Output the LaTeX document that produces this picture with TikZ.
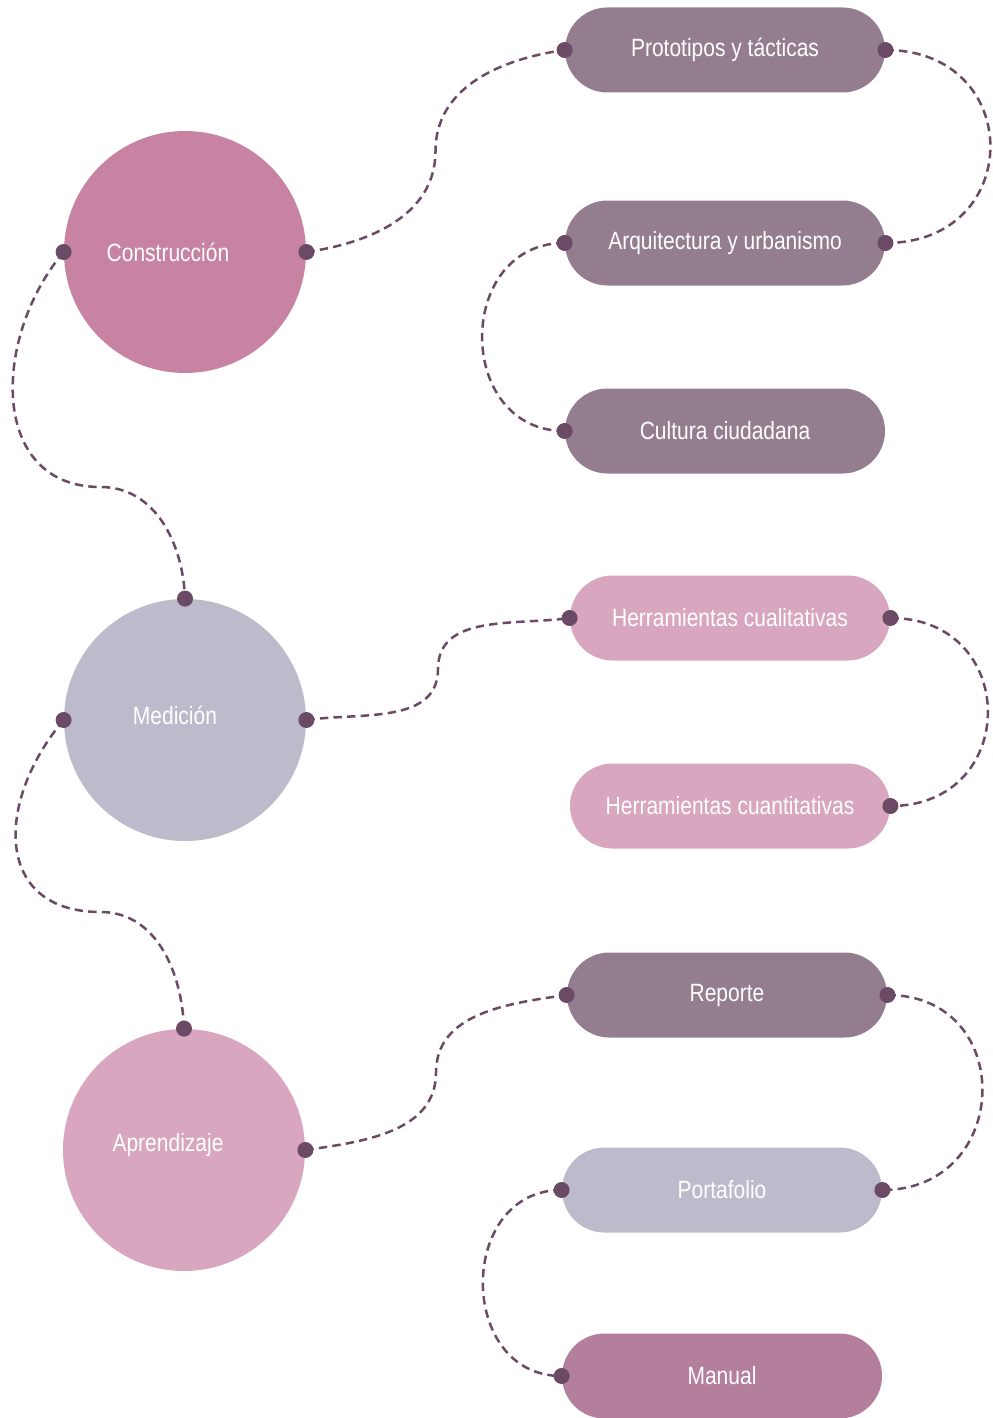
\documentclass[tikz,border=0pt]{standalone}
\usepackage{fontspec}
\setmainfont{Liberation Sans}[FakeStretch=0.84]
\usetikzlibrary{calc}
\definecolor{linkcol}{HTML}{6B4A65}
\definecolor{roseA}{HTML}{C882A2}
\definecolor{lilac}{HTML}{BDBACB}
\definecolor{pinkB}{HTML}{D8A6BF}
\definecolor{mauve}{HTML}{937D8E}
\definecolor{plum}{HTML}{B47F9C}

\begin{document}
\begin{tikzpicture}[x=0.5pt,y=0.5pt]
        \tikzstyle{every node}+=[inner sep=0pt,text=white,font=\fontsize{12.5}{15}\selectfont]
        \tikzstyle{hub}=[circle,minimum size=121pt]
        \tikzstyle{pill}=[rectangle,rounded corners=21.25pt,minimum width=160pt,minimum height=42.5pt]
        \tikzstyle{link}=[draw=linkcol,line width=1.25pt,dash pattern=on 4.2pt off 2.6pt]
        \useasboundingbox (0,0) rectangle (992,-1418);
        % big circles
        \node [hub,fill=roseA] (cons) at (185,-252) {};
        \node (consT) at (168,-252) {Construcción};
        \node [hub,fill=lilac] (med) at (185,-720) {};
        \node (medT) at (175,-715) {Medición};
        \node [hub,fill=pinkB] (apr) at (184,-1150) {};
        \node (aprT) at (168,-1145) {Aprendizaje};
        % pills
        \node [pill,fill=mauve] (proto) at (725,-50) {Prototipos y tácticas};
        \node [pill,fill=mauve] (arq) at (725,-243) {Arquitectura y urbanismo};
        \node [pill,fill=mauve] (cult) at (725,-431) {Cultura ciudadana};
        \node [pill,fill=pinkB] (hcual) at (730,-618) {Herramientas cualitativas};
        \node [pill,fill=pinkB] (hcuant) at (730,-806) {Herramientas cuantitativas};
        \node [pill,fill=mauve] (rep) at (727,-995) {Reporte};
        \node [pill,fill=lilac] (port) at (722,-1190) {Portafolio};
        \node [pill,fill=plum] (man) at (722,-1376) {Manual};
        % connectors
        \draw [link] (cons.east) to[out=8,in=-90] ($(cons.east)!.5!(proto.west)$) to[out=90,in=188] (proto.west);
        \draw [link] (proto.east) .. controls +(140,0) and +(140,0) .. (arq.east);
        \draw [link] (arq.west) .. controls +(-110,0) and +(-110,0) .. (cult.west);
        \draw [link] (cons.west) to[out=-130,in=180,looseness=1.2] ($(cons.west)+(37,-235)$) to[out=0,in=92] (med.north);
        \draw [link] (med.east) to[out=8,in=-90] ($(med.east)!.5!(hcual.west)$) to[out=90,in=188] (hcual.west);
        \draw [link] (hcual.east) .. controls +(130,0) and +(130,0) .. (hcuant.east);
        \draw [link] (med.west) to[out=-130,in=180,looseness=1.4] ($(med.west)+(37,-192)$) to[out=0,in=92] (apr.north);
        \draw [link] (apr.east) to[out=8,in=-90] ($(apr.east)!.5!(rep.west)$) to[out=90,in=188] (rep.west);
        \draw [link] (rep.east) .. controls +(130,0) and +(130,0) .. (port.east);
        \draw [link] (port.west) .. controls +(-105,0) and +(-105,0) .. (man.west);
        % end dots
        \foreach \p in {cons.east,cons.west,med.north,med.east,med.west,apr.north,apr.east,
                proto.west,proto.east,arq.east,arq.west,cult.west,hcual.west,hcual.east,hcuant.east,
                rep.west,rep.east,port.east,port.west,man.west}
            \fill [linkcol] (\p) circle (4pt);
\end{tikzpicture}
\end{document}
